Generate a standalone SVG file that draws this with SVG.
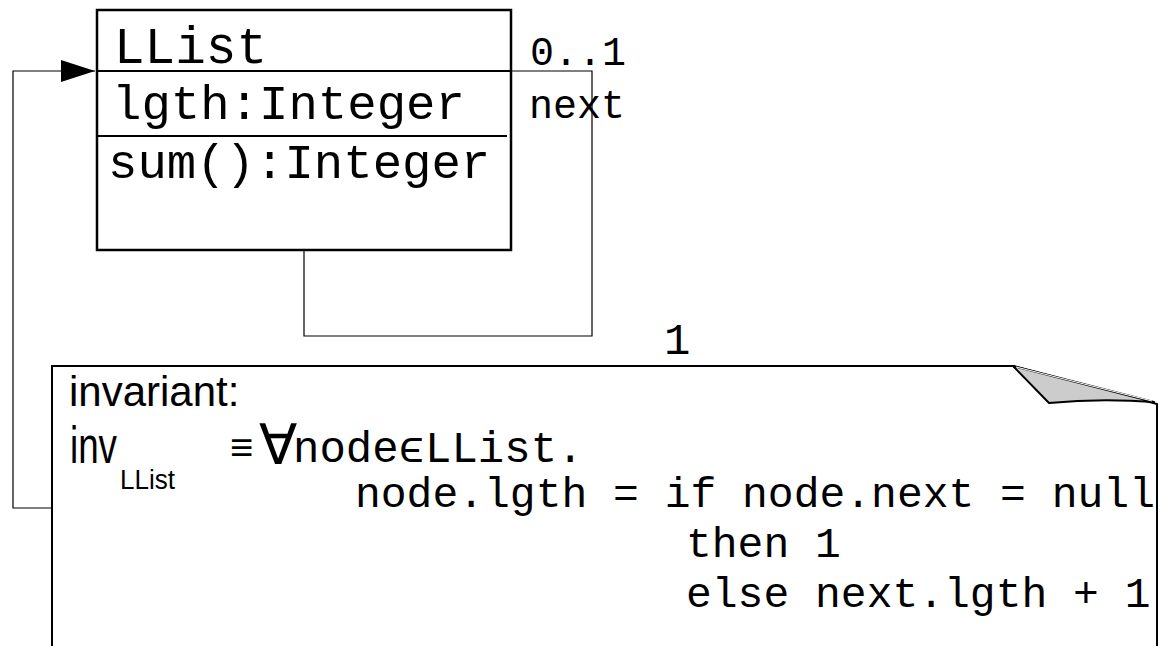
<svg xmlns="http://www.w3.org/2000/svg" width="1163" height="646" viewBox="0 0 1163 646">
  <style>
    .mono { font-family: "Liberation Mono", "Courier New", monospace; fill: #000; }
    .sans { font-family: "Liberation Sans", Arial, sans-serif; fill: #000; }
    .thin { fill: none; stroke: #000; stroke-width: 1.2; }
    .frame { fill: #fff; stroke: #000; stroke-width: 2.5; }
  </style>
  <defs>
    <marker id="arrow" viewBox="0 0 34 22" refX="34" refY="11" markerWidth="34" markerHeight="22" markerUnits="userSpaceOnUse" orient="auto">
      <path d="M0,0 L34,11 L0,22 Z" fill="#000"/>
    </marker>
  </defs>
  <rect width="1163" height="646" fill="#fff"/>

  <!-- connectors -->
  <g id="connectors">
    <!-- self association "next" -->
    <polyline class="thin" points="510,71 592,71 592,336 304,336 304,251"/>
    <!-- note attachment with arrow into the class -->
    <polyline class="thin" points="52,508 13,508 13,71 95,71" marker-end="url(#arrow)"/>
    <text class="mono" x="530" y="65" font-size="40">0..1</text>
    <text class="mono" x="529" y="118" font-size="40">next</text>
    <text class="mono" x="664" y="354" font-size="44">1</text>
  </g>

  <!-- class LList -->
  <g id="class-LList">
    <rect class="frame" x="97" y="10" width="414" height="240"/>
    <line x1="97" y1="71" x2="511" y2="71" stroke="#000" stroke-width="2"/>
    <line x1="97" y1="136" x2="507" y2="136" stroke="#000" stroke-width="2"/>
    <text class="mono" x="114" y="63" font-size="51">LList</text>
    <text class="mono" x="112" y="119" font-size="49">lgth:Integer</text>
    <text class="mono" x="108" y="178" font-size="49">sum():Integer</text>
  </g>

  <!-- invariant note -->
  <g id="note-invariant">
    <path d="M52,646 V366 H1013 L1157,404 V646" fill="#fff" stroke="#000" stroke-width="2"/>
    <!-- folded corner -->
    <path d="M1013,366 L1154,402 Q1100,398 1049,403 Z" fill="#cccccc" stroke="#000" stroke-width="2" stroke-linejoin="round"/>
    <line x1="1016" y1="367" x2="1152" y2="401" stroke="#fff" stroke-width="1"/>
    <text class="sans" x="69" y="406" font-size="42">invariant:</text>
    <text class="sans" x="70" y="463" font-size="52" textLength="47" lengthAdjust="spacingAndGlyphs">inv</text>
    <text class="sans" x="120" y="489" font-size="27" textLength="55" lengthAdjust="spacingAndGlyphs">LList</text>
    <text class="sans" x="230" y="461" font-size="40" font-weight="bold">≡</text>
    <text class="sans" x="259" y="464" font-size="56">∀</text>
    <text class="mono" x="293" y="462" font-size="44">nodeϵLList.</text>
    <text class="mono" x="355" y="507" font-size="43">node.lgth = if node.next = null</text>
    <text class="mono" x="686" y="557" font-size="43">then 1</text>
    <text class="mono" x="686" y="607" font-size="43">else next.lgth + 1</text>
  </g>
</svg>
